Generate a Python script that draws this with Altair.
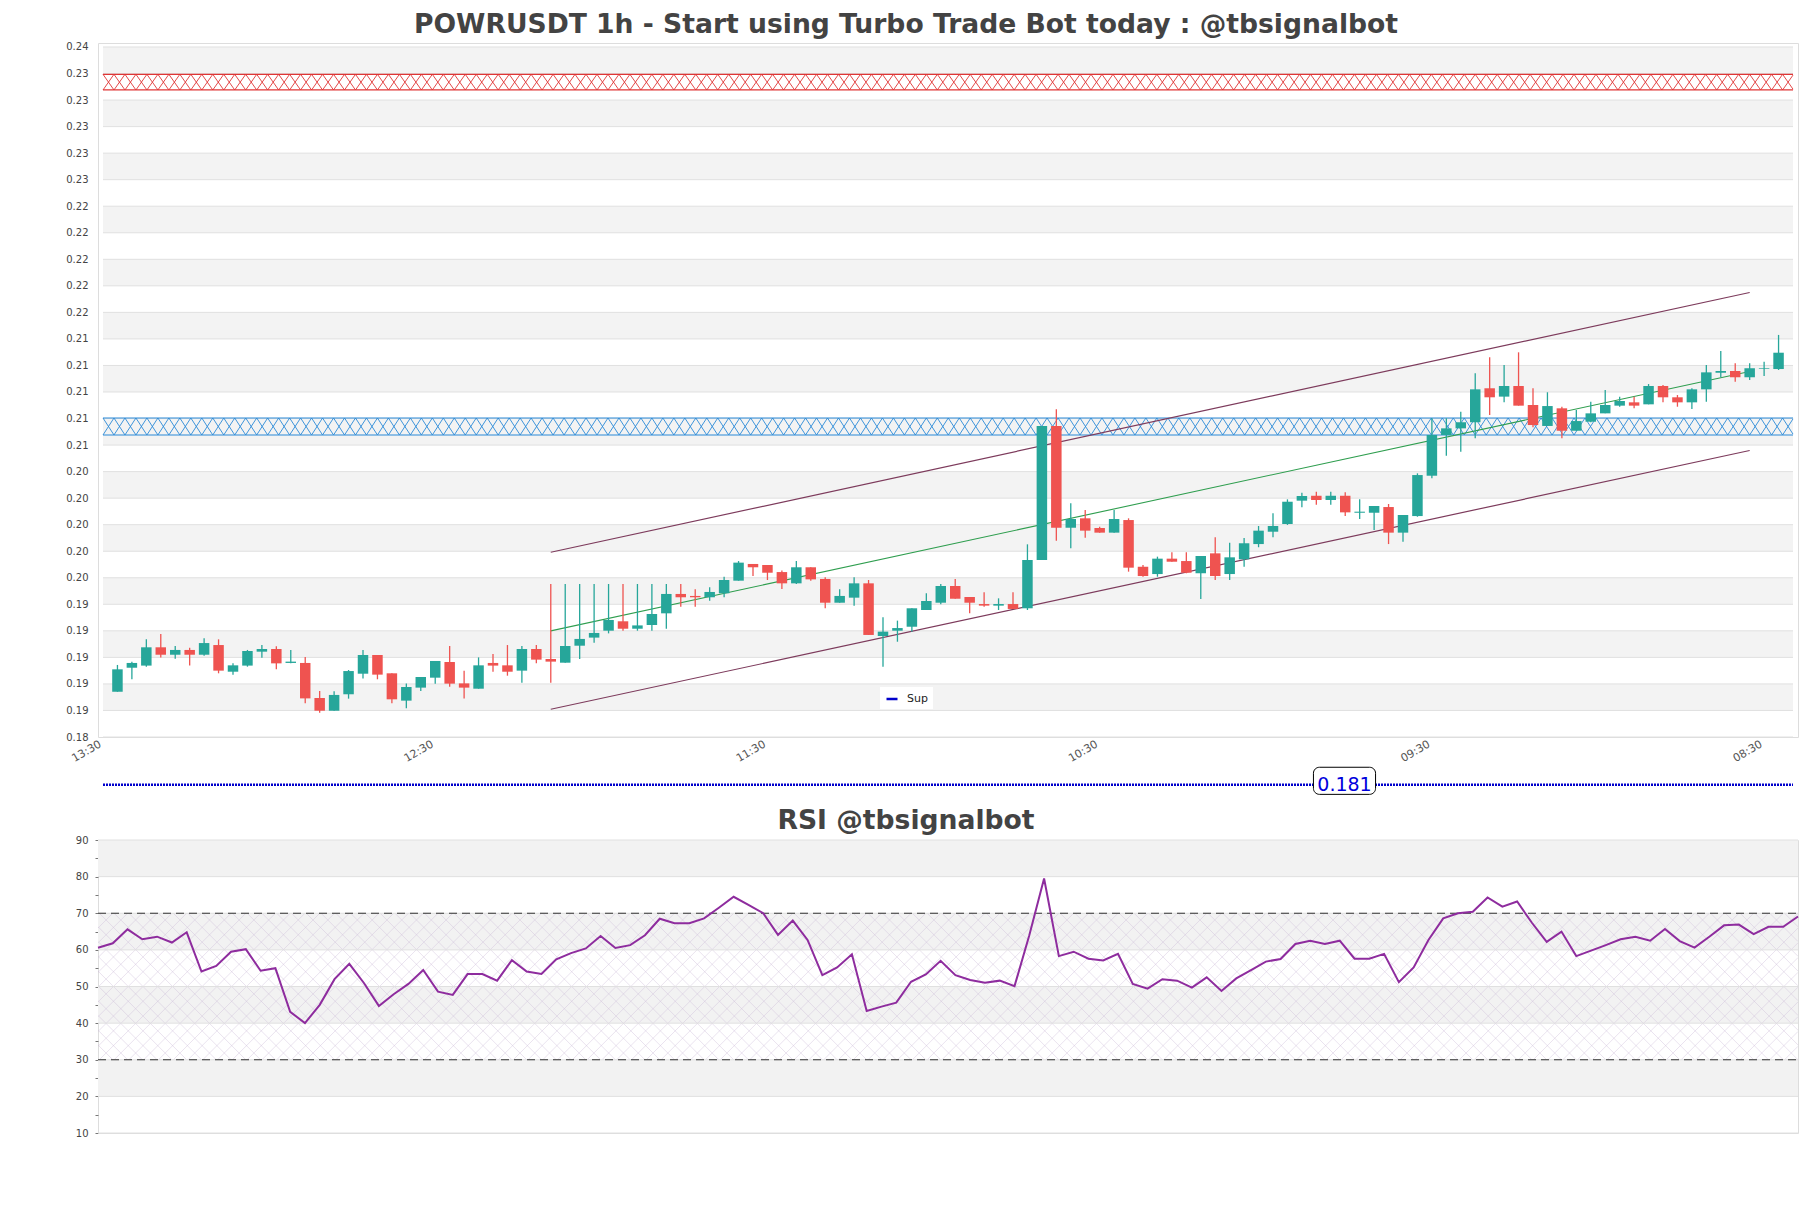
import altair as alt
import numpy as np
import pandas as pd

# ---------------- data ----------------
title_main = "POWRUSDT 1h - Start using Turbo Trade Bot today : @tbsignalbot"
title_rsi = "RSI @tbsignalbot"

opens = [0.18741, 0.18922, 0.18938, 0.19076, 0.19020, 0.19056, 0.19020, 0.19093, 0.18892, 0.18938,
         0.19043, 0.19063, 0.18958, 0.18958, 0.18694, 0.18598, 0.18722, 0.18877, 0.19018, 0.18880,
         0.18674, 0.18772, 0.18847, 0.18965, 0.18804, 0.18764, 0.18958, 0.18940, 0.18900, 0.19063,
         0.18988, 0.18960, 0.19088, 0.19149, 0.19201, 0.19272, 0.19216, 0.19244, 0.19332, 0.19478,
         0.19463, 0.19453, 0.19483, 0.19578, 0.19704, 0.19696, 0.19643, 0.19558, 0.19679, 0.19591,
         0.19412, 0.19450, 0.19558, 0.19161, 0.19201, 0.19231, 0.19357, 0.19412, 0.19538, 0.19455,
         0.19402, 0.19390, 0.19402, 0.19370, 0.19734, 0.20744, 0.19977, 0.20048, 0.19975, 0.19940,
         0.20035, 0.19683, 0.19628, 0.19744, 0.19726, 0.19634, 0.19784, 0.19628, 0.19739, 0.19854,
         0.19947, 0.20005, 0.20181, 0.20218, 0.20186, 0.20218, 0.20090, 0.20090, 0.20133, 0.19940,
         0.20065, 0.20369, 0.20676, 0.20726, 0.20772, 0.21028, 0.20965, 0.21045, 0.20902, 0.20744,
         0.20877, 0.20708, 0.20776, 0.20839, 0.20897, 0.20922, 0.20907, 0.21045, 0.20960, 0.20922,
         0.21020, 0.21145, 0.21158, 0.21111, 0.21175, 0.21173]
highs = [0.18943, 0.18968, 0.19136, 0.19176, 0.19086, 0.19073, 0.19144, 0.19136, 0.18955, 0.19056,
         0.19093, 0.19083, 0.19056, 0.19003, 0.18747, 0.18744, 0.18905, 0.19056, 0.19018, 0.18880,
         0.18804, 0.18852, 0.18973, 0.19086, 0.18900, 0.19000, 0.19025, 0.19093, 0.19086, 0.19093,
         0.19553, 0.19553, 0.19553, 0.19553, 0.19553, 0.19553, 0.19553, 0.19553, 0.19553, 0.19553,
         0.19513, 0.19528, 0.19608, 0.19726, 0.19704, 0.19696, 0.19654, 0.19726, 0.19679, 0.19603,
         0.19513, 0.19603, 0.19583, 0.19302, 0.19277, 0.19370, 0.19483, 0.19553, 0.19591, 0.19455,
         0.19490, 0.19445, 0.19490, 0.19852, 0.20744, 0.20870, 0.20161, 0.20111, 0.19985, 0.20111,
         0.20048, 0.19696, 0.19759, 0.19792, 0.19792, 0.19764, 0.19905, 0.19864, 0.19900, 0.19990,
         0.20086, 0.20191, 0.20241, 0.20249, 0.20249, 0.20244, 0.20191, 0.20141, 0.20156, 0.20073,
         0.20387, 0.20802, 0.20802, 0.20851, 0.21141, 0.21261, 0.21203, 0.21299, 0.21028, 0.20998,
         0.20889, 0.20864, 0.20927, 0.21015, 0.20965, 0.20965, 0.21060, 0.21053, 0.20977, 0.21028,
         0.21203, 0.21309, 0.21216, 0.21216, 0.21228, 0.21430]
lows = [0.18741, 0.18835, 0.18930, 0.19000, 0.18990, 0.18938, 0.19013, 0.18880, 0.18870, 0.18930,
        0.18998, 0.18910, 0.18955, 0.18654, 0.18583, 0.18598, 0.18689, 0.18840, 0.18835, 0.18654,
        0.18616, 0.18747, 0.18802, 0.18779, 0.18691, 0.18764, 0.18892, 0.18862, 0.18809, 0.18955,
        0.18809, 0.18960, 0.18988, 0.19111, 0.19181, 0.19201, 0.19201, 0.19201, 0.19216, 0.19382,
        0.19382, 0.19427, 0.19453, 0.19578, 0.19613, 0.19583, 0.19515, 0.19553, 0.19578, 0.19370,
        0.19412, 0.19390, 0.19169, 0.18930, 0.19118, 0.19194, 0.19357, 0.19400, 0.19442, 0.19332,
        0.19382, 0.19357, 0.19365, 0.19357, 0.19734, 0.19879, 0.19822, 0.19902, 0.19940, 0.19940,
        0.19646, 0.19608, 0.19608, 0.19721, 0.19634, 0.19440, 0.19583, 0.19583, 0.19683, 0.19830,
        0.19905, 0.19998, 0.20131, 0.20151, 0.20151, 0.20065, 0.20043, 0.19960, 0.19854, 0.19872,
        0.20060, 0.20350, 0.20520, 0.20550, 0.20651, 0.20827, 0.20922, 0.20897, 0.20734, 0.20744,
        0.20651, 0.20708, 0.20772, 0.20839, 0.20889, 0.20877, 0.20907, 0.20922, 0.20889, 0.20872,
        0.20927, 0.21111, 0.21078, 0.21090, 0.21121, 0.21166]
closes = [0.18910, 0.18958, 0.19076, 0.19020, 0.19056, 0.19020, 0.19108, 0.18900, 0.18940, 0.19048,
          0.19063, 0.18955, 0.18968, 0.18691, 0.18598, 0.18717, 0.18897, 0.19018, 0.18870, 0.18684,
          0.18777, 0.18852, 0.18973, 0.18802, 0.18772, 0.18940, 0.18938, 0.18892, 0.19063, 0.18983,
          0.18968, 0.19086, 0.19139, 0.19184, 0.19282, 0.19216, 0.19241, 0.19327, 0.19478, 0.19453,
          0.19453, 0.19493, 0.19583, 0.19714, 0.19679, 0.19638, 0.19558, 0.19679, 0.19588, 0.19412,
          0.19463, 0.19558, 0.19169, 0.19194, 0.19221, 0.19370, 0.19425, 0.19538, 0.19442, 0.19412,
          0.19390, 0.19402, 0.19365, 0.19734, 0.20744, 0.19977, 0.20043, 0.19955, 0.19940, 0.20043,
          0.19676, 0.19613, 0.19744, 0.19721, 0.19638, 0.19764, 0.19613, 0.19754, 0.19860, 0.19955,
          0.19990, 0.20173, 0.20216, 0.20186, 0.20218, 0.20093, 0.20098, 0.20141, 0.19940, 0.20073,
          0.20374, 0.20676, 0.20726, 0.20772, 0.21020, 0.20960, 0.21045, 0.20897, 0.20751, 0.20894,
          0.20708, 0.20781, 0.20839, 0.20902, 0.20932, 0.20897, 0.21045, 0.20960, 0.20922, 0.21020,
          0.21148, 0.21158, 0.21111, 0.21179, 0.21180, 0.21296]
rsi_values = [60.6, 61.8, 65.6, 62.9, 63.6, 62.0, 64.8, 54.1, 55.6, 59.5,
              60.2, 54.3, 55.0, 43.1, 40.0, 45.0, 52.0, 56.2, 50.9, 44.7,
              47.9, 50.7, 54.5, 48.6, 47.7, 53.4, 53.4, 51.6, 57.2, 54.1,
              53.4, 57.4, 59.1, 60.4, 63.8, 60.5, 61.3, 64.0, 68.5, 67.3,
              67.3, 68.6, 71.5, 74.5, 72.3, 70.0, 64.1, 68.0, 62.7, 53.1,
              55.2, 58.8, 43.3, 44.5, 45.6, 51.3, 53.3, 57.0, 53.1, 51.8,
              51.0, 51.6, 50.1, 64.0, 79.5, 58.3, 59.5, 57.6, 57.1, 58.9,
              50.7, 49.4, 52.0, 51.6, 49.7, 52.5, 48.8, 52.2, 54.5, 56.8,
              57.5, 61.6, 62.5, 61.6, 62.5, 57.6, 57.6, 58.9, 51.2, 55.2,
              62.7, 68.6, 70.0, 70.4, 74.3, 71.8, 73.2, 67.4, 62.2, 65.0,
              58.3, 59.8, 61.3, 62.9, 63.6, 62.5, 65.7, 62.4, 60.6, 63.6,
              66.7, 66.9, 64.3, 66.3, 66.3, 69.1]

price_ticks = [0.184, 0.186, 0.188, 0.190, 0.192, 0.194, 0.196, 0.198, 0.200, 0.202,
               0.204, 0.206, 0.208, 0.210, 0.212, 0.214, 0.216, 0.218, 0.220, 0.222,
               0.224, 0.226, 0.228, 0.230, 0.232, 0.234, 0.236]
time_tick_pos = [-1, 22, 45, 68, 91, 114]
time_tick_labels = ["13:30", "12:30", "11:30", "10:30", "09:30", "08:30"]
rsi_ticks = [10, 15, 20, 25, 30, 35, 40, 45, 50, 55, 60, 65, 70, 75, 80, 85, 90]
rsi_grid = [10, 20, 30, 40, 50, 60, 70, 80, 90]
rsi_levels = [70, 30]

resistance_zone = [0.23276, 0.23394]
support_zone = [0.20676, 0.20804]
channel_idx = [30, 113]
channel_upper = [0.19792, 0.21750]
channel_mid = [0.19200, 0.21155]
channel_lower = [0.18609, 0.20559]
sup_name = "Sup"
sup_level = 0.181
sup_label = "0.181"
sup_label_idx = [82.8, 87.1]
sup_label_halfheight = 0.00072

x_domain = [-1, 116]
y_domain = [0.184, 0.2363]
rsi_x_domain = [0, 115]
rsi_y_domain = [10, 90]

W = 1700
H_MAIN = 694
H_RSI = 293
FONT = "DejaVu Sans"
SUP_SHIFT = 8  # the level line sits a little lower than the price scale puts it

# ---------------- main (price) chart ----------------
label_expr = "''"
for pos, lab in reversed(list(zip(time_tick_pos, time_tick_labels))):
    label_expr = f"datum.value == {pos} ? '{lab}' : ({label_expr})"

xs = alt.Scale(domain=x_domain, nice=False, zero=False)
ys = alt.Scale(domain=y_domain, nice=False, zero=False)
x_axis = alt.Axis(values=time_tick_pos, labelExpr=label_expr, labelAngle=-30, labelAlign="right",
                  labelBaseline="top", labelFlush=False, labelFontSize=11, labelColor="#555555",
                  labelFont=FONT, ticks=False, domain=False, grid=False, title=None,
                  labelPadding=1, labelOffset=-6, labelOverlap=False)
y_axis = alt.Axis(values=price_ticks, format=".2f", labelFontSize=10, labelColor="#444444",
                  labelFont=FONT, ticks=False, domain=False, grid=False, title=None,
                  labelPadding=10, minExtent=35, maxExtent=35, labelOverlap=False)


def PX(f):
    return alt.X(f, type="quantitative", scale=xs, axis=x_axis)


def PY(f):
    return alt.Y(f, type="quantitative", scale=ys, axis=y_axis)


bands_df = pd.DataFrame({"lo": price_ticks[1:-1:2], "hi": price_ticks[2::2],
                         "x0": x_domain[0], "x1": x_domain[1]})
bands = alt.Chart(bands_df).mark_rect(color="#f3f3f3").encode(
    x=PX("x0"), x2="x1", y=PY("lo"), y2="hi")

grid_df = pd.DataFrame({"v": price_ticks, "x0": x_domain[0], "x1": x_domain[1]})
grid = alt.Chart(grid_df).mark_rule(color="#e0e0e0", strokeWidth=1).encode(
    x=PX("x0"), x2="x1", y=PY("v"))


def hatch_df(lo, hi, step, start, stop, span):
    """Diagonal hatch strokes, trimmed so that none leaves [start, stop]."""
    rows = []
    for x in np.arange(start - span, stop, step):
        xa, ya, xb, yb = x, hi, x + span, lo
        for (p0, q0, p1, q1) in ((xa, ya, xb, yb), (xa, yb, xb, ya)):
            a0, a1 = max(p0, start), min(p1, stop)
            if a1 <= a0:
                continue
            t0, t1 = (a0 - p0) / span, (a1 - p0) / span
            rows.append({"x": a0, "x2": a1, "y": q0 + (q1 - q0) * t0, "y2": q0 + (q1 - q0) * t1})
    return pd.DataFrame(rows)


def zone_layers(zone, color):
    h = hatch_df(zone[0], zone[1], 0.76, x_domain[0], x_domain[1], 0.76)
    hatch = alt.Chart(h).mark_rule(clip=True, color=color, strokeWidth=0.9).encode(
        x=PX("x"), x2="x2", y=PY("y"), y2="y2")
    edges = alt.Chart(pd.DataFrame({"v": zone, "x0": x_domain[0], "x1": x_domain[1]})).mark_rule(
        color=color, strokeWidth=1.2).encode(x=PX("x0"), x2="x1", y=PY("v"))
    return [hatch, edges]


ch_df = pd.DataFrame({"x0": [channel_idx[0]] * 2, "x1": [channel_idx[1]] * 2,
                      "y0": [channel_upper[0], channel_lower[0]],
                      "y1": [channel_upper[1], channel_lower[1]]})
channel = alt.Chart(ch_df).mark_rule(color="#7d3b5c", strokeWidth=1.2).encode(
    x=PX("x0"), x2="x1", y=PY("y0"), y2="y1")
mid_df = pd.DataFrame({"x0": [channel_idx[0]], "x1": [channel_idx[1]],
                       "y0": [channel_mid[0]], "y1": [channel_mid[1]]})
mid = alt.Chart(mid_df).mark_rule(color="#2f9e4f", strokeWidth=1.1).encode(
    x=PX("x0"), x2="x1", y=PY("y0"), y2="y1")

candles = pd.DataFrame({"i": list(range(len(opens))), "open": opens, "high": highs,
                        "low": lows, "close": closes})
cond = alt.condition("datum.close >= datum.open", alt.value("#26a69a"), alt.value("#ef5350"))
wick = alt.Chart(candles).mark_rule(strokeWidth=1.3).encode(
    x=PX("i"), y=PY("low"), y2="high", color=cond)
body = alt.Chart(candles).mark_bar(size=10.5).encode(
    x=PX("i"), y=PY("open"), y2="close", color=cond)

sup_df = pd.DataFrame({"level": [sup_level], "name": [sup_name],
                       "x0": [x_domain[0]], "x1": [x_domain[1]]})
sup_rule = alt.Chart(sup_df).mark_rule(strokeDash=[2, 1], strokeWidth=2.5,
                                       yOffset=SUP_SHIFT).encode(
    x=PX("x0"), x2="x1", y=PY("level"),
    color=alt.Color("name:N", scale=alt.Scale(domain=[sup_name], range=["#0000cc"]),
                    legend=alt.Legend(title=None, orient="none", legendX=782, legendY=644,
                                      fillColor="white", padding=5, labelFontSize=11,
                                      labelFont=FONT, labelColor="#222222", symbolType="stroke",
                                      symbolStrokeWidth=2.5, symbolSize=121, symbolDash=[10, 0],
                                      labelOffset=8)))
box_df = pd.DataFrame({"x0": [sup_label_idx[0]], "x1": [sup_label_idx[1]],
                       "y0": [sup_level - sup_label_halfheight],
                       "y1": [sup_level + sup_label_halfheight]})
box = alt.Chart(box_df).mark_rect(fill="white", stroke="black", strokeWidth=1,
                                  cornerRadius=6, yOffset=SUP_SHIFT).encode(
    x=PX("x0"), x2="x1", y=PY("y0"), y2="y1")
txt_df = pd.DataFrame({"xc": [sum(sup_label_idx) / 2], "level": [sup_level],
                       "label": [sup_label]})
txt = alt.Chart(txt_df).mark_text(fontSize=19, color="#0000dd", font=FONT,
                                  yOffset=SUP_SHIFT).encode(
    x=PX("xc"), y=PY("level"), text="label:N")

main_layers = [bands, grid] + zone_layers(resistance_zone, "#e03535") + \
    zone_layers(support_zone, "#2a8ad8") + [channel, mid, wick, body, sup_rule, box, txt]
main = alt.layer(*main_layers).properties(
    width=W, height=H_MAIN,
    title=alt.TitleParams(title_main, fontSize=26.6, fontWeight="bold", font=FONT,
                          color="#434343", anchor="middle", dx=-42, offset=3.6))

# ---------------- RSI chart ----------------
rxs = alt.Scale(domain=rsi_x_domain, nice=False, zero=False)
rys = alt.Scale(domain=rsi_y_domain, nice=False, zero=False)
ry_axis = alt.Axis(values=rsi_ticks, labelExpr="datum.value % 10 == 0 ? datum.label : ''",
                   tickSize=3, tickColor="#777777", labelFontSize=10, labelColor="#444444",
                   labelFont=FONT, domain=False, grid=False, title=None, labelPadding=7,
                   minExtent=35, maxExtent=35, labelOverlap=False)


def RX(f):
    return alt.X(f, type="quantitative", scale=rxs, axis=None)


def RY(f):
    return alt.Y(f, type="quantitative", scale=rys, axis=ry_axis)


rb_df = pd.DataFrame({"lo": rsi_grid[1:-1:2], "hi": rsi_grid[2::2],
                      "x0": rsi_x_domain[0], "x1": rsi_x_domain[1]})
r_bands = alt.Chart(rb_df).mark_rect(color="#f2f2f2").encode(
    x=RX("x0"), x2="x1", y=RY("lo"), y2="hi")

r_h = hatch_df(rsi_levels[1], rsi_levels[0], 1.0, rsi_x_domain[0], rsi_x_domain[1], 9.91)
r_hatch = alt.Chart(r_h).mark_rule(clip=True, color="#cdbcd8", strokeWidth=0.7,
                                   opacity=0.6).encode(
    x=RX("x"), x2="x2", y=RY("y"), y2="y2")

rg_df = pd.DataFrame({"v": rsi_grid, "x0": rsi_x_domain[0], "x1": rsi_x_domain[1]})
r_grid = alt.Chart(rg_df).mark_rule(color="#e0e0e0", strokeWidth=1).encode(
    x=RX("x0"), x2="x1", y=RY("v"))

rl_df = pd.DataFrame({"v": rsi_levels, "x0": rsi_x_domain[0], "x1": rsi_x_domain[1]})
r_levels = alt.Chart(rl_df).mark_rule(color="#333333", strokeWidth=1.2,
                                      strokeDash=[8, 5]).encode(
    x=RX("x0"), x2="x1", y=RY("v"))

r_df = pd.DataFrame({"i": list(range(len(rsi_values))), "rsi": rsi_values})
r_line = alt.Chart(r_df).mark_line(color="#8e2c9e", strokeWidth=2).encode(
    x=RX("i"), y=RY("rsi"))

rsi_chart = alt.layer(r_bands, r_hatch, r_grid, r_levels, r_line).properties(
    width=W, height=H_RSI,
    title=alt.TitleParams(title_rsi, fontSize=26.6, fontWeight="bold", font=FONT,
                          color="#434343", anchor="middle", dx=-42, offset=0))

chart = alt.vconcat(main, rsi_chart, spacing=11).resolve_scale(
    color="independent").resolve_legend(color="independent").properties(
    padding={"left": 54, "top": 3, "right": 0, "bottom": 0},
    background="white"
).configure_view(stroke="#d6d6d6", strokeWidth=1).configure(font=FONT)

chart.save("out.html", embed_options={"renderer": "svg", "actions": False})
